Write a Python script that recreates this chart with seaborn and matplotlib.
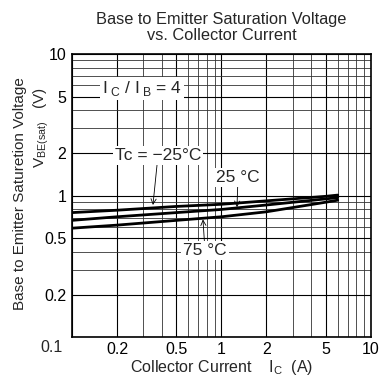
import numpy as np
import pandas as pd
import matplotlib
matplotlib.use('Agg')
import matplotlib.pyplot as plt
import matplotlib.ticker as mticker
import seaborn as sns

# data
ic = [0.1, 0.2, 0.5, 1, 2, 5, 6]
vbe_m25 = [0.76, 0.79, 0.84, 0.87, 0.92, 0.99, 1.01]
vbe_25 = [0.67, 0.71, 0.76, 0.80, 0.86, 0.95, 0.97]
vbe_75 = [0.59, 0.62, 0.67, 0.71, 0.77, 0.90, 0.93]
temps = ['-25', '25', '75']
tick_vals = [0.1, 0.2, 0.5, 1, 2, 5, 10]
tick_labels = ['', '0.2', '0.5', '1', '2', '5', '10']

df = pd.DataFrame({
    'ic': ic * 3,
    'vbe': vbe_m25 + vbe_25 + vbe_75,
    'tc': [t for t in temps for _ in ic],
})

sns.set_style('white')
plt.rcParams['font.family'] = ['Liberation Sans', 'DejaVu Sans']
plt.rcParams['mathtext.fontset'] = 'custom'
plt.rcParams['mathtext.rm'] = 'Liberation Sans'

fig = plt.figure(figsize=(3.82, 3.80), dpi=100)
ax = fig.add_axes([0.1885, 0.112, 0.7825, 0.746])

sns.lineplot(data=df, x='ic', y='vbe', hue='tc', palette=['black'] * 3,
             linewidth=2.0, legend=False, ax=ax, zorder=3)

ax.set_xscale('log')
ax.set_yscale('log')
ax.set_xlim(0.1, 10)
ax.set_ylim(0.1, 10)
ax.set_xticks(tick_vals, tick_labels)
ax.set_yticks(tick_vals, tick_labels)
ax.xaxis.set_minor_locator(mticker.LogLocator(subs=np.arange(2, 10)))
ax.yaxis.set_minor_locator(mticker.LogLocator(subs=np.arange(2, 10)))
ax.xaxis.set_minor_formatter(mticker.NullFormatter())
ax.yaxis.set_minor_formatter(mticker.NullFormatter())
ax.grid(True, which='major', color='black', linewidth=0.8)
ax.grid(True, which='minor', color='#333333', linewidth=0.6)
ax.tick_params(which='both', length=0, labelsize=11.5, colors='black')
ax.tick_params(axis='x', pad=3)
ax.tick_params(axis='y', pad=4)
for s in ax.spines.values():
    s.set_color('black')
    s.set_linewidth(1.2)
    s.set_zorder(4)

ax.text(-0.067, -0.035, '0.1', transform=ax.transAxes, ha='center', va='center', fontsize=11.5)

ax.set_xlabel(r'Collector Current    I$_{\rm C}$  (A)', fontsize=11.5)
ax.xaxis.set_label_coords(0.5, -0.072)
ax.set_ylabel('')
fig.text(0.053, 0.49, 'Base to Emitter Saturetion Voltage', rotation=90,
         ha='center', va='center', fontsize=11)
fig.text(0.107, 0.665, r'V$_{\rm BE(sat)}$   (V)', rotation=90,
         ha='center', va='center', fontsize=11)
fig.text(0.58, 0.927, 'Base to Emitter Saturation Voltage\nvs. Collector Current',
         ha='center', va='center', fontsize=11.8, linespacing=1.05)

box = dict(facecolor='white', edgecolor='none', pad=1.5)
ax.text(0.294, 5.68, r'I$_{\;\rm C}$ / I$_{\;\rm B}$ = 4', ha='center', va='center',
        fontsize=12.5, bbox=box, zorder=5)
arrow = dict(arrowstyle='->,head_length=0.3,head_width=0.15', color='black',
             linewidth=0.6, shrinkA=0, shrinkB=0)
ax.annotate('Tc = \u221225\u00b0C', xy=(0.348, 0.86), xytext=(0.376, 1.92),
            ha='center', va='center', fontsize=12.5, bbox=box, zorder=5,
            arrowprops=arrow)
ax.annotate('25 \u00b0C', xy=(1.27, 0.83), xytext=(1.29, 1.35),
            ha='center', va='center', fontsize=12.5, bbox=box, zorder=5,
            arrowprops=arrow)
ax.annotate('75 \u00b0C', xy=(0.752, 0.68), xytext=(0.776, 0.408),
            ha='center', va='center', fontsize=12.5, bbox=box, zorder=5,
            arrowprops=arrow)

plt.savefig('out.png', dpi=100)
